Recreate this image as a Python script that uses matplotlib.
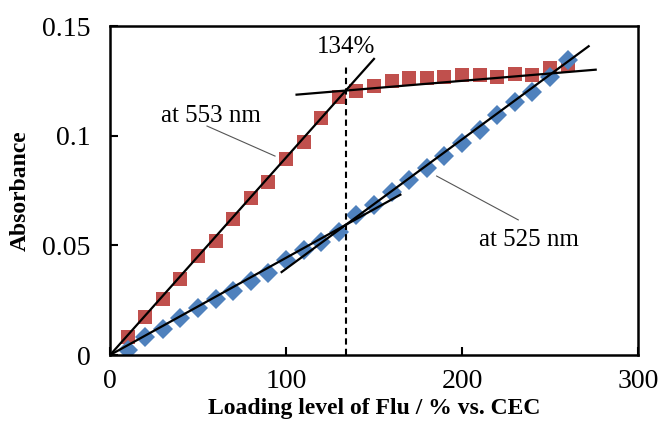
import numpy as np
import matplotlib
matplotlib.use("Agg")
import matplotlib.pyplot as plt

plt.rcParams['font.family'] = ['Liberation Serif', 'DejaVu Serif']

# loading level (% vs. CEC)
loading = np.arange(10, 261, 10)

# absorbance at 553 nm (red squares) and 525 nm (blue diamonds)
abs_553 = [0.0084, 0.0175, 0.0255, 0.0347, 0.0451, 0.0521, 0.0619, 0.0714, 0.0790,
           0.0892, 0.0973, 0.1080, 0.1178, 0.1205, 0.1228, 0.1248, 0.1261, 0.1261,
           0.1269, 0.1277, 0.1277, 0.1269, 0.1281, 0.1277, 0.1307, 0.1322]
abs_525 = [0.0023, 0.0081, 0.0120, 0.0169, 0.0213, 0.0254, 0.0293, 0.0337, 0.0375,
           0.0433, 0.0480, 0.0517, 0.0562, 0.0638, 0.0684, 0.0745, 0.0798, 0.0851,
           0.0907, 0.0968, 0.1026, 0.1094, 0.1155, 0.1201, 0.1269, 0.1345]

# straight-line fits: (x start, x end, slope, intercept)
fits = [(0, 150, 0.00090, 0.0),
        (106, 276, 0.000067, 0.1116),
        (0, 165, 0.000443, 0.0),
        (97.5, 272, 0.00059, -0.0197)]

breakpoint_x = 134
breakpoint_top = 0.132

fig = plt.figure(figsize=(6.59, 4.30), dpi=100)
ax = fig.add_axes([0.167, 0.1744, 0.801, 0.7651])

ax.plot(loading, abs_553, 's', color='#C0504D', markersize=10.5, markeredgewidth=0, zorder=2)
ax.plot(loading, abs_525, 'D', color='#4F81BD', markersize=10, markeredgewidth=0, zorder=2)

for x0, x1, k, b in fits:
    xs = np.array([x0, x1])
    ax.plot(xs, k * xs + b, color='black', linewidth=1.6, zorder=3)

ax.plot([breakpoint_x, breakpoint_x], [0, breakpoint_top], color='black',
        linestyle=(0, (3, 2)), linewidth=1.5, zorder=3)

ax.text(breakpoint_x, 0.1404, '134%', ha='center', va='center', fontsize=18)
ax.text(57.4, 0.109, 'at 553 nm', ha='center', va='center', fontsize=18)
ax.text(238, 0.0524, 'at 525 nm', ha='center', va='center', fontsize=18)
# leader lines for the labels
ax.plot([55.1, 93.75], [0.1044, 0.0907], color='#555555', linewidth=0.8, zorder=3)
ax.plot([185.6, 232], [0.0816, 0.0616], color='#555555', linewidth=0.8, zorder=3)

ax.set_xlim(0, 300)
ax.set_ylim(0, 0.15)
ax.set_xticks([0, 100, 200, 300])
ax.set_yticks([0, 0.05, 0.1, 0.15])
ax.set_yticklabels(['0', '0.05', '0.1', '0.15'])
ax.tick_params(direction='in', length=6, width=1.5, labelsize=20)
ax.tick_params(axis='y', pad=14)
ax.tick_params(axis='x', pad=10)
for s in ax.spines.values():
    s.set_linewidth(1.8)

ax.set_xlabel('Loading level of Flu / % vs. CEC', fontsize=17, fontweight='bold', labelpad=3)
ax.set_ylabel('Absorbance', fontsize=17, fontweight='bold', labelpad=8)

fig.savefig('out.png', dpi=100)
